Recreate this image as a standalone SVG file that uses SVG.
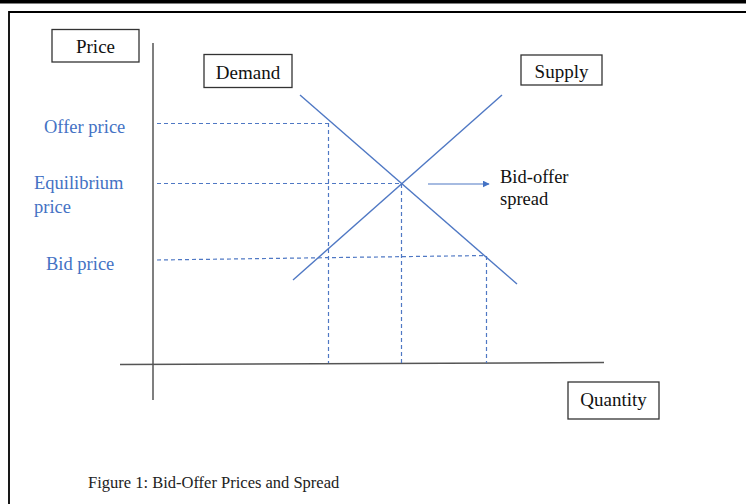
<svg xmlns="http://www.w3.org/2000/svg" width="746" height="504" viewBox="0 0 746 504">
<style>
.box{fill:#fff;stroke:#333;stroke-width:1.3}
.lbl{font-family:"Liberation Serif","Times New Roman",serif;font-size:19px;fill:#111}
.blue{font-family:"Liberation Serif","Times New Roman",serif;font-size:18.5px;fill:#4472C4}
.axis{stroke:#555;stroke-width:1.5;fill:none}
.curve{stroke:#4F78C4;stroke-width:1.4;fill:none}
.dash{stroke:#4F78C4;stroke-width:1.2;stroke-dasharray:4 3;fill:none}
</style>
<defs>
<marker id="ah" viewBox="0 0 10 10" refX="9" refY="5" markerWidth="7" markerHeight="7" orient="auto" markerUnits="userSpaceOnUse">
<path d="M0,0 L10,5 L0,10 z" fill="#4472C4"/>
</marker>
</defs>
<rect width="746" height="504" fill="#fff"/>
<g id="frame">
<rect x="0" y="0" width="746" height="3.5" fill="#000"/>
<path d="M9,504 V12 H746" fill="none" stroke="#000" stroke-width="1.8"/>
</g>
<g id="connectors">
<line class="axis" x1="153" y1="43" x2="153" y2="400"/>
<line class="axis" x1="120" y1="364.5" x2="604" y2="362.5"/>
<line class="curve" x1="300" y1="95" x2="517" y2="284"/>
<line class="curve" x1="293" y1="280" x2="502" y2="95"/>
<line class="dash" x1="157" y1="123.5" x2="329" y2="123.5"/>
<line class="dash" x1="328.5" y1="123" x2="328.5" y2="363"/>
<line class="dash" x1="157" y1="183.5" x2="402" y2="183.5"/>
<line class="dash" x1="401.5" y1="184" x2="401.5" y2="363"/>
<line class="dash" x1="157" y1="260" x2="486" y2="255.5"/>
<line class="dash" x1="486.5" y1="256" x2="486.5" y2="363"/>
<line x1="428" y1="184" x2="489" y2="184" stroke="#4F78C4" stroke-width="1.2" marker-end="url(#ah)"/>
</g>
<g id="price"><rect class="box" x="52" y="29.5" width="87" height="32.5"/><text class="lbl" x="95.5" y="52.5" text-anchor="middle">Price</text></g>
<g id="demand"><rect class="box" x="204" y="54.5" width="88" height="33"/><text class="lbl" x="248" y="78.5" text-anchor="middle">Demand</text></g>
<g id="supply"><rect class="box" x="521" y="55" width="81" height="30"/><text class="lbl" x="561.5" y="77.5" text-anchor="middle">Supply</text></g>
<g id="quantity"><rect class="box" x="568" y="382" width="91" height="37"/><text class="lbl" x="613.5" y="406" text-anchor="middle">Quantity</text></g>
<g id="offer"><text class="blue" x="44" y="133">Offer price</text></g>
<g id="equilibrium"><text class="blue" x="34" y="189">Equilibrium</text><text class="blue" x="34" y="213">price</text></g>
<g id="bid"><text class="blue" x="46" y="270">Bid price</text></g>
<g id="spread"><text class="lbl" x="500" y="183" style="font-size:18.5px">Bid-offer</text><text class="lbl" x="500" y="205" style="font-size:18.5px">spread</text></g>
<g id="caption"><text x="88" y="488" font-family="Liberation Serif, Times New Roman, serif" font-size="16.5" fill="#222">Figure 1: Bid-Offer Prices and Spread</text></g>
</svg>
